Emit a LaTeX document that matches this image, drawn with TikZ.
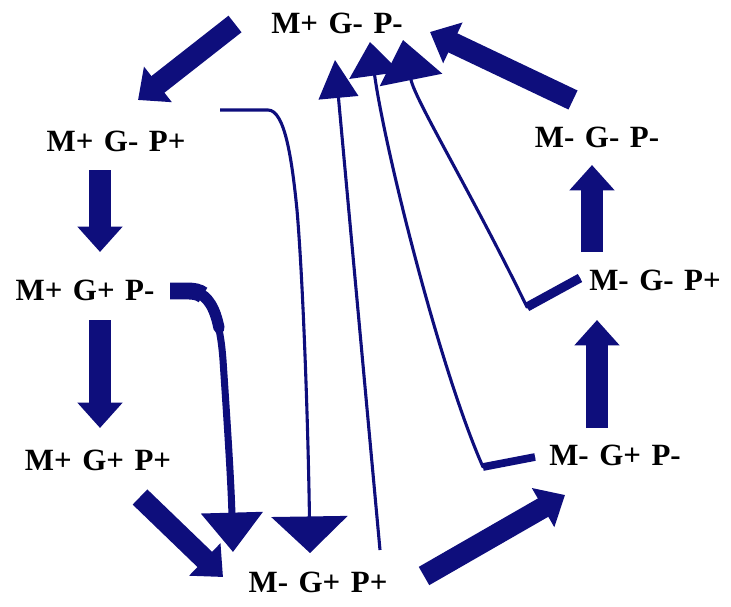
\documentclass[tikz,border=0pt]{standalone}
\usepackage{fontspec}
\setmainfont{Liberation Serif}
\usetikzlibrary{arrows.meta}

\definecolor{navyarrow}{RGB}{14,14,124}
\newcommand{\statefont}{\fontsize{22}{25}\selectfont\bfseries}

\begin{document}
\begin{tikzpicture}[x=0.25mm,y=-0.25mm,
  state/.style={font=\statefont,inner sep=1pt,execute at begin node={\spaceskip=7.5pt\relax}},
  bigarrow/.style={navyarrow,line width=15pt,-{Triangle[width=31pt,length=18pt]}},
  thinarrow/.style={navyarrow,line width=2.2pt,line join=round}]

\useasboundingbox (0,0) rectangle (731,606);

% States
\node[state] (A) at (337,23) {M+ G- P-};
\node[state] (B) at (116,141) {M+ G- P+};
\node[state] (C) at (85,290) {M+ G+ P-};
\node[state] (D) at (98,460) {M+ G+ P+};
\node[state] (E) at (318,582) {M- G+ P+};
\node[state] (F) at (615,455) {M- G+ P-};
\node[state] (G) at (655,280) {M- G- P+};
\node[state] (H) at (597,137) {M- G- P-};

% Main cycle
\draw[bigarrow] ([shift={(-102,1)}]A.center) -- ([shift={(22,-41)}]B.center);
\draw[bigarrow] ([shift={(-16,29)}]B.center) -- ([shift={(15,-38)}]C.center);
\draw[bigarrow] ([shift={(15,30)}]C.center) -- ([shift={(2,-32)}]D.center);
\draw[bigarrow] ([shift={(42,37)}]D.center) -- ([shift={(-95,-5)}]E.center);
\draw[bigarrow] ([shift={(106,-6)}]E.center) -- ([shift={(-50,40)}]F.center);
\draw[bigarrow] ([shift={(-18,-27)}]F.center) -- ([shift={(-58,40)}]G.center);
\draw[bigarrow] ([shift={(-63,-28)}]G.center) -- ([shift={(-5,28)}]H.center);
\draw[bigarrow] ([shift={(-24,-37)}]H.center) -- ([shift={(93,9)}]A.center);

% Shortcuts down to M- G+ P+
\draw[thinarrow,-{Triangle[width=54pt,length=26pt]}] ([shift={(104,-31)}]B.center) -- (268,110)
  .. controls (285,110) and (292,160) .. (297,210)
  .. controls (303,280) and (308,420) .. ([shift={(-8,-29)}]E.center);
\draw[navyarrow,line width=5pt,-{Triangle[width=43pt,length=28pt]}] ([shift={(85,1)}]C.center) -- (190,291)
  .. controls (212,295) and (220,320) .. (223,360)
  .. controls (227,420) and (231,480) .. ([shift={(-85,-30)}]E.center);
\draw[navyarrow,line width=12pt] ([shift={(85,1)}]C.center) -- (188,291)
  .. controls (194,291) and (199,292) .. (203,295);
\draw[navyarrow,line width=8pt,line cap=round] (196,292) .. controls (208,296) and (215,308) .. (219,328);

% Shortcuts up to M+ G- P-
\draw[thinarrow,-{Triangle[width=28pt,length=27pt]}] ([shift={(62,-32)}]E.center) -- ([shift={(-2,37)}]A.center);
\draw[thinarrow,-{Triangle[width=36pt,length=24pt]}] ([shift={(-80,2)}]F.center) -- (483,467)
  .. controls (440,370) and (385,150) .. ([shift={(33,19)}]A.center);
\draw[navyarrow,line width=5.5pt] ([shift={(-80,2)}]F.center) -- (483,467);
\draw[thinarrow,-{Triangle[width=45pt,length=29pt]}] ([shift={(-75,-2)}]G.center) -- (527,307)
  .. controls (470,190) and (415,100) .. ([shift={(66,17)}]A.center);
\draw[navyarrow,line width=6.5pt] ([shift={(-75,-2)}]G.center) -- (527,307);

\end{tikzpicture}
\end{document}
